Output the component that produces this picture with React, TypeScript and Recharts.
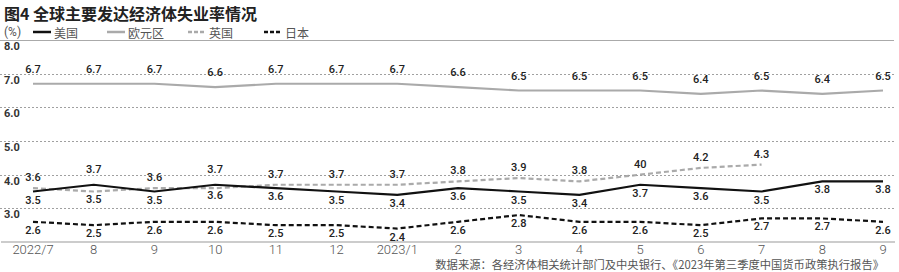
import { LineChart, Line, XAxis, YAxis, LabelList } from 'recharts'

const months = ['2022/7', '8', '9', '10', '11', '12', '2023/1', '2', '3', '4', '5', '6', '7', '8', '9']
const us = [3.5, 3.7, 3.5, 3.7, 3.6, 3.5, 3.4, 3.6, 3.5, 3.4, 3.7, 3.6, 3.5, 3.8, 3.8]
const euro = [6.7, 6.7, 6.7, 6.6, 6.7, 6.7, 6.7, 6.6, 6.5, 6.5, 6.5, 6.4, 6.5, 6.4, 6.5]
const uk = [3.6, 3.5, 3.6, 3.6, 3.7, 3.7, 3.7, 3.8, 3.9, 3.8, 4.0, 4.2, 4.3, null, null]
const japan = [2.6, 2.5, 2.6, 2.6, 2.5, 2.5, 2.4, 2.6, 2.8, 2.6, 2.6, 2.5, 2.7, 2.7, 2.6]
// label text as printed in the source figure (May reads "40")
const ukLabels = ['3.6', '3.5', '3.6', '3.6', '3.7', '3.7', '3.7', '3.8', '3.9', '3.8', '40', '4.2', '4.3']
const yTicks = [2, 3, 4, 5, 6, 7, 8]

// which side of the point each label sits on
const usAbove = [false, true, false, true, false, false, false, false, false, false, false, false, false, false, false]
const ukAbove = [true, false, true, false, true, true, true, true, true, true, true, true, true]

const data = months.map((m, i) => ({ m, us: us[i], euro: euro[i], uk: uk[i], japan: japan[i] }))

const NUM_FONT = 'Roboto, "Noto Sans", sans-serif'
const CJK_FONT = '"Noto Sans CJK SC", "Noto Sans", sans-serif'
const GRID_RIGHT = 894

function makeLabel(getText: (i: number) => string, isAbove: (i: number) => boolean, up: number, down: number) {
  return (props: any) => {
    const { x, y, index, value } = props
    if (value == null) return null
    const above = isAbove(index)
    return (
      <text
        x={x}
        y={above ? y - up : y + down}
        textAnchor="middle"
        fontSize={11}
        fontWeight={500}
        fontFamily={NUM_FONT}
        fill="#222"
      >
        {getText(index)}
      </text>
    )
  }
}

// y tick: grid line across the plot plus the label tucked under it
function YTick(props: any) {
  const { y, payload } = props
  if (payload.value === 2) return null
  const top = payload.value === 8
  const gy = Math.round(y) + 0.5
  return (
    <g>
      <line
        x1={0}
        y1={gy}
        x2={GRID_RIGHT}
        y2={gy}
        stroke={top ? '#aaaaaa' : '#a0a0a0'}
        strokeWidth={1}
        strokeDasharray={top ? undefined : '2 2'}
        shapeRendering="crispEdges"
      />
      <text x={4} y={y + 10} fontSize={11} fontWeight={700} fontFamily={NUM_FONT} fill="#333">
        {payload.value.toFixed(1)}
      </text>
    </g>
  )
}

function LegendItem({ left, label, color, dash }: { left: number; label: string; color: string; dash?: string }) {
  return (
    <div style={{ position: 'absolute', left, top: 24, display: 'flex', alignItems: 'center', height: 16 }}>
      <svg width={18} height={4} style={{ marginRight: 3 }}>
        <line x1={0} y1={2} x2={18} y2={2} stroke={color} strokeWidth={2.5} strokeDasharray={dash} />
      </svg>
      <span style={{ fontFamily: CJK_FONT, fontSize: 12, color: '#555' }}>{label}</span>
    </div>
  )
}

export default function App() {
  return (
    <div style={{ position: 'absolute', left: 0, top: 0, width: 899, height: 272, background: '#fff', overflow: 'hidden' }}>
      <div style={{ position: 'absolute', left: 4, top: 1, fontFamily: CJK_FONT, fontSize: 16, fontWeight: 700, color: '#222' }}>
        图4 全球主要发达经济体失业率情况
      </div>
      <div style={{ position: 'absolute', left: 4, top: 24, height: 16, lineHeight: '16px', fontFamily: NUM_FONT, fontSize: 12, color: '#555' }}>
        (%)
      </div>
      <LegendItem left={33} label="美国" color="#111" />
      <LegendItem left={107} label="欧元区" color="#aaa" />
      <LegendItem left={188} label="英国" color="#aaa" dash="4 2" />
      <LegendItem left={264} label="日本" color="#111" dash="4 2" />

      <div style={{ position: 'absolute', left: 0, top: 0 }}>
        <LineChart width={899} height={272} data={data} margin={{ top: 40, right: 4, bottom: 0, left: -29 }}>
          <YAxis
            width={30}
            type="number"
            domain={[2, 8]}
            ticks={yTicks}
            axisLine={false}
            tickLine={false}
            tick={<YTick />}
          />
          <XAxis
            dataKey="m"
            height={30}
            padding={{ left: 32, right: 12 }}
            axisLine={{ stroke: '#999' }}
            tickLine={false}
            tickMargin={-3}
            interval={0}
            tick={{ fontSize: 13, fontWeight: 300, fontFamily: NUM_FONT, fill: '#555' }}
          />
          <Line dataKey="euro" stroke="#aaa" strokeWidth={2.2} dot={false} isAnimationActive={false}>
            <LabelList dataKey="euro" content={makeLabel((i) => euro[i].toFixed(1), () => true, 11, 12)} />
          </Line>
          <Line dataKey="uk" stroke="#aaa" strokeWidth={2.2} strokeDasharray="5 3" dot={false} isAnimationActive={false}>
            <LabelList dataKey="uk" content={makeLabel((i) => ukLabels[i], (i) => ukAbove[i], 7, 11)} />
          </Line>
          <Line dataKey="us" stroke="#111" strokeWidth={2.2} dot={false} isAnimationActive={false}>
            <LabelList dataKey="us" content={makeLabel((i) => us[i].toFixed(1), (i) => usAbove[i], 12, 12)} />
          </Line>
          <Line dataKey="japan" stroke="#111" strokeWidth={2.2} strokeDasharray="5 3" dot={false} isAnimationActive={false}>
            <LabelList dataKey="japan" content={makeLabel((i) => japan[i].toFixed(1), () => false, 0, 12)} />
          </Line>
        </LineChart>
      </div>

      <div
        style={{
          position: 'absolute',
          right: 15,
          top: 258,
          lineHeight: '12px',
          fontFamily: CJK_FONT,
          fontSize: 11.3,
          color: '#555',
          whiteSpace: 'nowrap',
        }}
      >
        数据来源：各经济体相关统计部门及中央银行、《2023年第三季度中国货币政策执行报告》
      </div>
    </div>
  )
}
